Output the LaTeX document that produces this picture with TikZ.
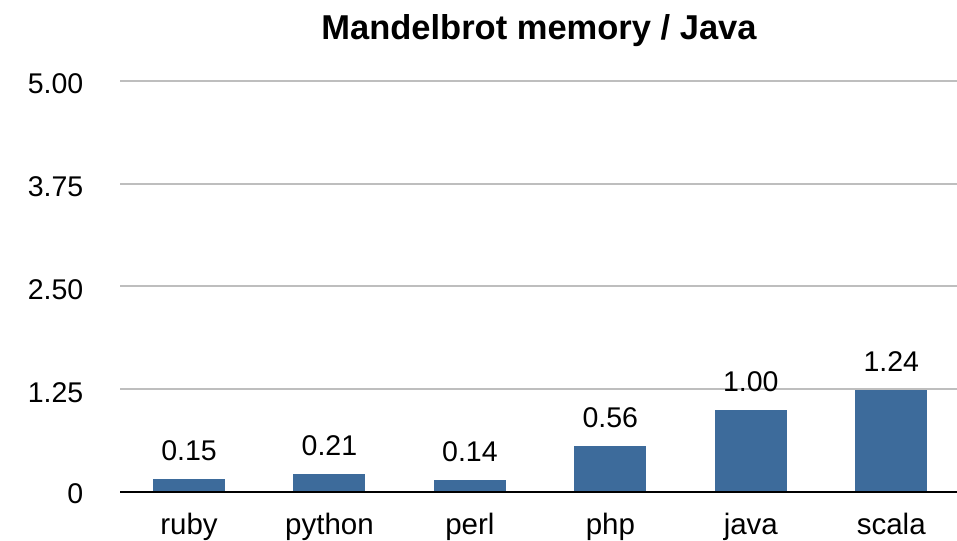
\documentclass[tikz,border=0pt]{standalone}
\usepackage{fontspec}
\setmainfont{Liberation Sans}
\definecolor{barblue}{RGB}{61,107,155}
\definecolor{gridgray}{RGB}{190,190,190}
\tikzset{
  bar/.style={fill=barblue, draw=none},
  gridline/.style={draw=gridgray, line width=2pt},
  axisline/.style={draw=black, line width=2pt},
  ticklabel/.style={font=\fontsize{28.5}{30}\selectfont, inner sep=0pt, anchor=base east},
  catlabel/.style={font=\fontsize{29.5}{31}\selectfont, inner sep=0pt, anchor=base},
  vallabel/.style={font=\fontsize{28.5}{30}\selectfont, inner sep=0pt, anchor=base},
  titlelabel/.style={font=\bfseries\fontsize{34.5}{36}\selectfont, inner sep=0pt, anchor=base}
}
\begin{document}
\begin{tikzpicture}[x=1pt,y=-1pt]
  \useasboundingbox (0,0) rectangle (957,540);
  % vertical scale: 82.16 px per unit, zero at y=491.7
  \def\zy{491.7}
  \def\unit{82.16}
  % title
  \node[titlelabel] (title) at (539,40) {Mandelbrot memory / Java};
  % horizontal grid lines and axis labels
  \foreach \v/\t [count=\i] in {1.25/1.25, 2.5/2.50, 3.75/3.75, 5/5.00} {
    \coordinate (gl\i) at (120,\zy-\v*\unit);
    \coordinate (gr\i) at (957,\zy-\v*\unit);
    \draw[gridline] (gl\i) -- (gr\i);
    \node[ticklabel] (tick\i) at (83.5,\zy-\v*\unit+13) {\t};
  }
  \node[ticklabel] (tick0) at (83.5,\zy+12) {0};
  % bars with value and category labels
  \foreach \name/\val/\lab [count=\i from 0] in
      {ruby/0.15/0.15, python/0.21/0.21, perl/0.14/0.14,
       php/0.56/0.56, java/1.0/1.00, scala/1.24/1.24} {
    \pgfmathsetmacro{\cx}{189+140.45*\i}
    \pgfmathsetmacro{\top}{\zy-\val*\unit}
    \fill[bar] (\cx-36,\zy) rectangle (\cx+36,\top);
    \node[vallabel] (val\name) at (\cx,\top-18.5) {\lab};
    \node[catlabel] (cat\name) at (\cx,534) {\name};
  }
  % baseline
  \coordinate (axl) at (120,\zy);
  \coordinate (axr) at (957,\zy);
  \draw[axisline] (axl) -- (axr);
\end{tikzpicture}
\end{document}
